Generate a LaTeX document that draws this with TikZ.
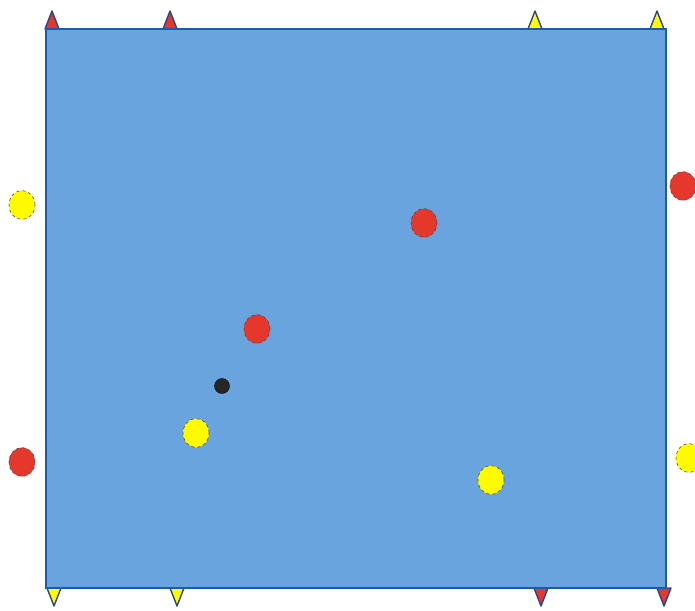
\documentclass[tikz,border=0pt]{standalone}
\usetikzlibrary{shapes.geometric}
\definecolor{pitch}{RGB}{106,164,222}
\definecolor{pitchline}{RGB}{30,90,170}
\definecolor{ballred}{RGB}{230,55,45}
\definecolor{ballyellow}{RGB}{255,250,0}
\definecolor{conedark}{RGB}{40,70,140}
\tikzset{
  ball/.style={ellipse, minimum width=26pt, minimum height=29pt, inner sep=0pt, draw=black!70, dashed, line width=0.6pt},
  redball/.style={ball, fill=ballred},
  yellowball/.style={ball, fill=ballyellow},
  blackball/.style={circle, minimum size=15pt, inner sep=0pt, fill=black!85, draw=black},
  conestyle/.style={draw=conedark, line width=1.4pt, line join=round},
}
\newcommand{\conetop}[2]{\filldraw[conestyle, fill=#2] (#1-7,29) -- (#1,11) -- (#1+7,29) -- cycle;}
\newcommand{\conebot}[2]{\filldraw[conestyle, fill=#2] (#1-7,588) -- (#1,606) -- (#1+7,588) -- cycle;}
\begin{document}
\begin{tikzpicture}[x=1pt,y=-1pt]
\useasboundingbox (0,0) rectangle (695,610);
\fill[white] (0,0) rectangle (695,610);
\conetop{52}{ballred}
\conetop{170}{ballred}
\conetop{535}{ballyellow}
\conetop{657}{ballyellow}
\conebot{54}{ballyellow}
\conebot{177}{ballyellow}
\conebot{541}{ballred}
\conebot{664}{ballred}
\filldraw[fill=pitch, draw=pitchline, line width=2pt] (46,29) rectangle (666,588);
\node[yellowball] (y1) at (22,205) {};
\node[redball] (r1) at (683,186) {};
\node[redball] (r2) at (424,223) {};
\node[redball] (r3) at (257,329) {};
\node[blackball] (b1) at (222,386) {};
\node[yellowball] (y2) at (196,433) {};
\node[redball] (r4) at (22,462) {};
\node[yellowball] (y3) at (491,480) {};
\node[yellowball] (y4) at (689,458) {};
\end{tikzpicture}
\end{document}
